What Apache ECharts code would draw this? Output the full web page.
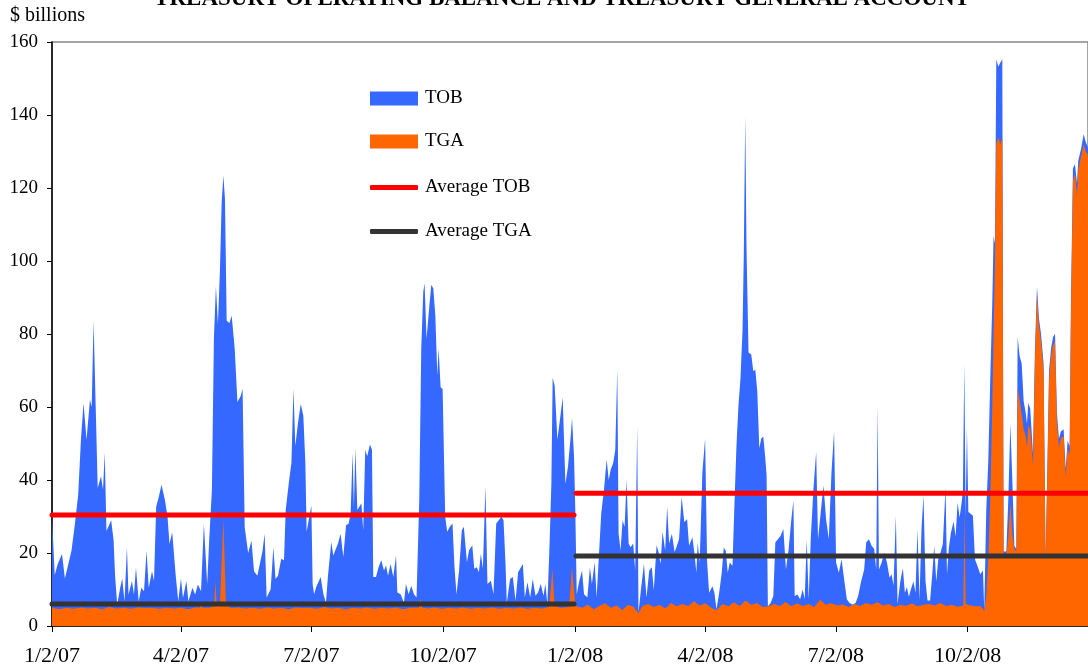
<!DOCTYPE html>
<html>
<head>
<meta charset="utf-8">
<script src="https://cdn.jsdelivr.net/npm/echarts@6/dist/echarts.min.js"></script>
<style>
  html, body { margin: 0; padding: 0; background: #fff; }
  #chart { width: 1088px; height: 668px; }
</style>
</head>
<body>
<div id="chart"></div>
<script>
// x values are calendar days counted from 1/2/07
const tickDays = [0, 90, 181, 273, 365, 456, 547, 639]
const tickLabels = ['1/2/07', '4/2/07', '7/2/07', '10/2/07', '1/2/08', '4/2/08', '7/2/08', '10/2/08']

const tob = [
  [0,30],[1.9,14],[4,17],[7,19.7],[9,13],[10.3,12.8],[13.6,20.6],[16,28],[18.3,36],[20.2,51],[22,61],[24.1,51],
  [26.5,62],[27.7,60],[29,83.6],[30.5,60],[31.9,37.8],[34.2,41],[35.6,37.3],[36.8,47.5],[38,26],[41.3,29],[43,23.4],
  [44,14],[45.5,5.8],[47.6,10.5],[49,13],[50.6,6.8],[52.3,21.6],[53.4,8.6],[55.8,12.3],[57.2,8.6],[58.6,16],[60.5,6.8],
  [62.3,10.5],[64.2,9.5],[66,20.6],[67.5,10.5],[69.8,15],[71.2,12.3],[72.7,32.7],[74.6,35.5],[76.4,38.7],[78.8,34.5],
  [80.6,30],[82,22.5],[83.9,25.7],[86.3,14],[88.1,6.8],[90,13],[91.4,7.7],[93.8,12.3],[95.2,6.8],[96.6,8.6],[98,10.5],
  [99.9,8.6],[101.8,11.4],[104,9.5],[106,28],[108.3,11.4],[109.7,23.4],[111.6,37.3],[113,79],[114.4,93],[115.8,82.7],
  [117.2,97.5],[118.4,116],[119.6,123.4],[120.7,117],[121.9,83.6],[123.8,83],[125.4,85],[127.5,76],[129.4,61.4],
  [131.7,63],[133,65],[134.5,27],[136.9,20],[139.2,23.4],[141,15],[143.3,13.8],[146.8,20.3],[148.4,25.3],[149.8,7.8],
  [152.6,10.1],[154.5,21.6],[156,12.9],[157.7,13.8],[160,18.4],[161.9,18],[163.1,31.8],[165.2,39],[167.1,44.7],
  [168.5,65],[169.8,49.3],[171.7,55.7],[173.6,60.8],[175.4,57.6],[176.8,44.7],[177.7,25.8],[179.6,29.9],[181,33],
  [181.9,11.5],[182.9,8.7],[184.3,10.6],[185.6,10.1],[187.5,13.4],[189.4,8.7],[191.2,6.4],[192.6,13.8],[194.9,23],
  [196.3,19.3],[198.2,21.2],[199.6,22.6],[201.4,25.3],[203.3,18.9],[205.2,27.6],[207,28],[208.4,30.8],[209.8,47.4],
  [210.7,32.7],[211.7,48.8],[213.1,31.8],[215.9,33.6],[217.2,26.2],[218.6,48.3],[220,46.5],[221.9,49.7],[223.3,48.3],
  [224.2,13.4],[226.1,13.4],[227.9,16.1],[229.8,18],[231.7,15.2],[233.1,16.6],[234.5,13.8],[236.3,17],[238.2,13.4],
  [240.1,19.3],[241,9.2],[243.3,8.7],[245.6,6.4],[247,11.5],[248.9,8.7],[250.7,11],[252.6,8.7],[254.4,7.8],[256.3,34.5],
  [257.7,76],[259.1,91.6],[260,93.9],[261.4,78.7],[263.3,87.5],[264.7,93.5],[266.1,92.5],[267.5,85.2],[268.9,68.6],
  [269.8,76],[271.2,65.4],[272.6,64.9],[274.4,29.9],[275.8,25.8],[277.6,27.2],[279.5,28.1],[280.9,16.1],[282.3,8.7],
  [284.1,15.2],[286,26.2],[287.4,27.2],[289.6,17.5],[291,20.7],[293.3,22.1],[294.7,15.7],[296.5,16.1],[297.9,14.7],
  [299.3,19.8],[300.7,15.7],[302.5,38.2],[303.9,11.5],[306.3,12.4],[308.1,8.7],[310,28.1],[311.8,29],[313.7,29.9],
  [315.1,29],[316.5,17],[317.4,6.4],[319.7,12.9],[321.6,13.4],[323.5,6.9],[325.3,14.7],[326.7,15.7],[328.6,17],[330,7.8],
  [331.8,12],[333.7,7.8],[335.5,12.9],[337.4,8.3],[339.2,9.2],[341.1,11.5],[343,8.3],[344.3,11.5],[345.7,6],[347.1,20.7],
  [348.5,39],[349.4,68],[350.8,65.8],[352.7,51],[354.5,56.6],[356.4,62.6],[358.3,39],[360.1,43.7],[362,52],[362.9,57],
  [364.3,46.5],[365.2,31.8],[366.2,8.7],[368,12.4],[369.9,15.2],[371.3,8.7],[373.6,7.8],[375.4,16.1],[376.8,11.5],
  [378.7,17.5],[380.1,7.8],[381.5,18],[383.3,30.8],[385.2,37.3],[387.1,45.6],[388.5,40],[389.9,42.8],[391.7,44.7],
  [393.1,48.3],[394.5,70.4],[395.4,25.3],[396.8,20.7],[398.2,29],[399.6,27.2],[401,40],[402.4,22.6],[403.8,21.6],
  [405.6,22.6],[407,15.2],[408.4,54.8],[409.3,3.7],[411.2,10.6],[413.1,17],[414.9,7.8],[416.8,15.2],[418.6,16.1],
  [420,9.7],[421.9,22.1],[423.3,20.3],[424.7,17],[426.1,25.8],[427.9,20.7],[429.3,32.7],[430.7,22.6],[432.6,25.3],
  [434.5,20.3],[435.7,21.5],[437.6,23.8],[439.4,35.3],[441.3,28.4],[443.2,29.3],[444.6,22],[446.9,24.3],[448.3,20.1],
  [449.7,14.6],[450.6,22.9],[452,17.4],[453.9,42.2],[455.8,51.4],[457.2,17.4],[458.6,9.1],[460.9,10.9],[462.3,9.1],
  [463.7,4.5],[465.6,9.1],[467.4,14.6],[468.8,21.5],[470.2,20.6],[471.6,14.6],[473,17.4],[474.9,16.5],[476.3,33.9],
  [477.7,49.6],[479.1,60.6],[480.5,68],[481.9,80.9],[482.8,102],[483.8,139.7],[484.7,103],[486.1,74.9],[488,74.4],
  [489.4,69.8],[490.8,70.3],[492.2,64.3],[493.6,48.7],[495,51.4],[496.4,51.9],[497.8,45.9],[498.7,41.3],[499.6,5.4],
  [501.5,6.3],[503.4,8.2],[504.8,22.9],[506.6,23.8],[508.5,24.7],[510.4,26.6],[512.2,15.5],[514.1,21.1],[516,29.3],
  [517.4,34.4],[518.3,8.2],[520.2,8.6],[522.1,7.3],[523.9,10],[525.3,7.3],[526.7,23.8],[528.1,7.3],[529.5,23.8],
  [531.4,37.6],[533.3,47.7],[534.6,23.8],[536.5,31.2],[538.4,38.5],[540.2,29.3],[542.1,23.8],[544,42.2],[545.8,53.3],
  [547.2,17.4],[549.1,14.6],[551,18.3],[552.8,12.8],[554.7,7.3],[556.6,6.3],[558.4,5.9],[560.8,6.3],[562.6,8.2],
  [564.5,11.9],[566.8,15.5],[568.2,22.9],[570.1,23.8],[572,22],[573.8,21.1],[575.2,15.5],[576.2,60.6],[577.1,15.5],
  [579,17.4],[580.9,20.1],[582.7,17.4],[584.5,13.2],[585.9,14.2],[587.3,11.1],[588.9,30.2],[590.1,6],[592,12.2],
  [593.8,15.8],[595.2,9.1],[596.6,10.6],[598,8],[599.4,10.1],[601.2,12.2],[602.6,9.1],[604,26.6],[605.4,7],[606.8,26.6],
  [608.2,35.8],[609.6,12.2],[611,7],[612.8,7],[614.3,14.2],[615.7,21.9],[617.1,12.2],[618.5,18.3],[620.3,20.4],
  [621.7,22.5],[623.6,37.9],[624.6,14.2],[625.9,21.4],[627.3,25.5],[629.2,28.6],[630.6,24.5],[632,33.8],[633.4,29.7],
  [634.8,33.8],[635.7,36.9],[636.7,71.9],[637.6,29.7],[638.5,54.4],[639.5,31.2],[641.3,30.7],[642.7,30.2],[644.1,18.3],
  [646,16.3],[647.8,14.2],[649.7,15.2],[650.6,4.4],[652,31.7],[653.4,45.1],[654.8,67.8],[656.2,88.4],[657.1,106.9],
  [658.1,104.8],[659,155.3],[660.4,153.2],[661.8,154.3],[663.2,155.3],[664.1,20.4],[666,20.4],[667.4,34.8],[668.8,55.4],
  [670.2,40],[671.6,22],[673,21],[673.9,79.1],[675.3,73.9],[676.7,71.9],[678.1,61.6],[679.5,58.5],[680.4,55.4],
  [681.3,61.1],[682.7,59.5],[684.6,47.2],[686,76],[687.4,93],[688.8,84.2],[690.2,80.1],[692,71.9],[693.4,18.3],
  [694.8,47.2],[695.8,69.8],[697.2,76],[698.6,79.1],[700,80.1],[701.3,58.5],[702.7,51.3],[704.1,53.3],[706,53.9],
  [707.4,43],[708.8,50.8],[710.2,49.2],[711.1,88.4],[712.5,125.4],[713.9,126.5],[715.3,121.3],[716.2,127.5],
  [718.1,130.6],[720,134.7],[721.4,132.6],[723,131]
]

const tga = [
  [0,5],[5,4.6],[10,5],[15,4.7],[20,5.1],[25,4.8],[30,5],[35,4.6],[40,5.2],[45,4.8],[50,5],[55,4.7],[60,5.1],[65,4.9],
  [70,5],[75,4.7],[80,5],[85,4.8],[90,5],[95,4.6],[100,5.1],[103,5],[104,6.5],[105,5],[110,5],[113,5.5],[114.2,12.3],
  [114.9,5.5],[117.2,5.8],[119.6,29.4],[121.4,5.8],[125,4.9],[130,5.1],[135,4.8],[140,5],[145,4.7],[150,5.1],[155,4.8],
  [160,5],[165,4.6],[170,5.1],[175,4.9],[180,5],[185,4.7],[190,5.2],[195,4.8],[200,5],[205,4.6],[210,5],[215,4.8],
  [220,5.1],[225,4.7],[230,5],[235,4.8],[240,5.1],[245,4.6],[250,5],[256,5],[257.2,7.4],[258.5,5],[262,4.8],[267,5.1],
  [272,4.7],[277,5],[282,4.8],[287,5.1],[292,4.7],[297,5],[302,4.8],[307,5.1],[312,4.7],[317,5],[322,4.8],[327,5.1],
  [332,4.7],[337,5],[342,4.8],[347.1,5.2],[349.2,15.7],[350.8,5.5],[355,5],[361,5.2],[362.9,16.1],[365.2,5.5],
  [366.2,6],[370,5],[374,5.8],[378,4.6],[382,5.5],[386,6.2],[390,5],[394,5.6],[398,4.4],[402,5.8],[406,5.2],[409.3,3.5],
  [412,5.5],[416,6],[420,5.2],[424,5.8],[428,4.8],[432,6.3],[436,5.4],[440,6],[444,5.5],[448,6.8],[452,5.6],[456,6.2],
  [460,5],[463.7,4.3],[468,6],[472,5.4],[476,6.5],[480,5.5],[484,7],[488,5.8],[492,6.3],[496,5.2],[500,5.4],[504,6],
  [508,5.5],[512,6.6],[516,5.4],[520,6.2],[524,5.5],[528,6],[532,5.2],[536,7.2],[540,5.8],[544,6.2],[548,5.6],[552,5.9],
  [556,5.2],[560,6],[564,5.5],[568,6.3],[572,5.8],[576,6.5],[580,5.6],[584,6],[588,5.2],[592,5.8],[596,5.5],[600,6.2],
  [604,5.4],[608,5.8],[612,6],[616,5.6],[620,6.3],[624,5.5],[628,5.8],[632,5.3],[636,5.6],[636.8,32],[637.6,6],[640,5.7],
  [644,5.4],[648,5.5],[650.6,4.2],[652,8],[653.4,18],[654.8,35],[656.2,60],[657.1,80],[658.1,100],[659,132],[660.4,134],
  [661.8,132],[663.2,134],[664.1,19.5],[666,19.8],[667.4,24],[668.8,34],[670.2,25],[671.6,21],[673,20.5],[673.9,65],
  [675.3,62],[676.7,58],[678.1,54],[679.5,52],[680.4,49],[681.3,55],[682.7,54],[684.6,44],[686,73],[687.4,91],[688.8,82],
  [690.2,78],[692,70],[693.4,17.5],[694.8,45],[695.8,67],[697.2,74],[698.6,77],[700,78],[701.3,56],[702.7,49],
  [704.1,51.5],[706,52],[707.4,41],[708.8,48.5],[710.2,47],[711.1,85],[712.5,122],[713.9,124],[715.3,118],[716.2,125],
  [718.1,128.5],[720,132],[721.4,130],[723,129]
]

// period averages: 2007, 2008
const periods = [[0, 364.3], [365.7, 723]]
const avgTob = [30.4, 36.4]
const avgTga = [6.0, 19.2]

const serif = 'Liberation Serif'

const avgSeries = (name, values, color) => periods.map((p, i) => ({
  name: name,
  type: 'line',
  symbol: 'none',
  data: [[p[0], values[i]], [p[1], values[i]]],
  lineStyle: { color: color, width: 5, cap: 'round' },
  itemStyle: { color: color },
  z: 5
}))

const legendText = { fontFamily: serif, fontSize: 19, color: '#000', padding: [0, 0, 0, 2] }

const chart = echarts.init(document.getElementById('chart'))
chart.setOption({
  animation: false,
  backgroundColor: '#fff',
  graphic: [
    { type: 'text', left: 10, top: 6, style: { text: '$ billions', font: '20px ' + serif, fill: '#000' } },
    { type: 'text', x: 562, y: 11, style: { text: 'TREASURY OPERATING BALANCE AND TREASURY GENERAL ACCOUNT', font: 'bold 23px ' + serif, fill: '#000', textAlign: 'center', textVerticalAlign: 'bottom' } }
  ],
  legend: [
    {
      orient: 'vertical', left: 370, top: 89, padding: 0,
      itemWidth: 48, itemHeight: 14, itemGap: 24,
      textStyle: legendText,
      data: [{ name: 'TOB', icon: 'rect' }, { name: 'TGA', icon: 'rect' }]
    },
    {
      orient: 'vertical', left: 370, top: 178, padding: 0,
      itemWidth: 48, itemHeight: 5, itemGap: 25,
      icon: 'roundRect',
      textStyle: legendText,
      data: ['Average TOB', 'Average TGA']
    }
  ],
  grid: { left: 52, right: -2, top: 42, bottom: 42, show: true, borderColor: '#888', borderWidth: 1.5 },
  xAxis: {
    type: 'value',
    min: 0,
    max: 723,
    splitLine: { show: false },
    axisLine: { lineStyle: { color: '#000', width: 1.5 } },
    axisTick: { customValues: tickDays, length: 6, lineStyle: { color: '#000' } },
    axisLabel: {
      customValues: tickDays,
      margin: 19,
      fontFamily: serif,
      fontSize: 22,
      color: '#000',
      formatter: v => tickLabels[tickDays.indexOf(v)]
    }
  },
  yAxis: {
    type: 'value',
    min: 0,
    max: 160,
    interval: 20,
    splitLine: { show: false },
    axisLine: { show: true, lineStyle: { color: '#000', width: 1.5 } },
    axisTick: { show: true, length: 5, lineStyle: { color: '#000' } },
    axisLabel: { margin: 14, fontFamily: serif, fontSize: 19, color: '#000' }
  },
  series: [
    {
      name: 'TOB', type: 'line', symbol: 'none', data: tob,
      lineStyle: { width: 0 }, itemStyle: { color: '#3468FF' },
      areaStyle: { color: '#3468FF', opacity: 1 }
    },
    {
      name: 'TGA', type: 'line', symbol: 'none', data: tga,
      lineStyle: { width: 0 }, itemStyle: { color: '#FF6600' },
      areaStyle: { color: '#FF6600', opacity: 1 }
    },
    ...avgSeries('Average TOB', avgTob, '#FF0000'),
    ...avgSeries('Average TGA', avgTga, '#333333')
  ]
})
</script>
</body>
</html>
